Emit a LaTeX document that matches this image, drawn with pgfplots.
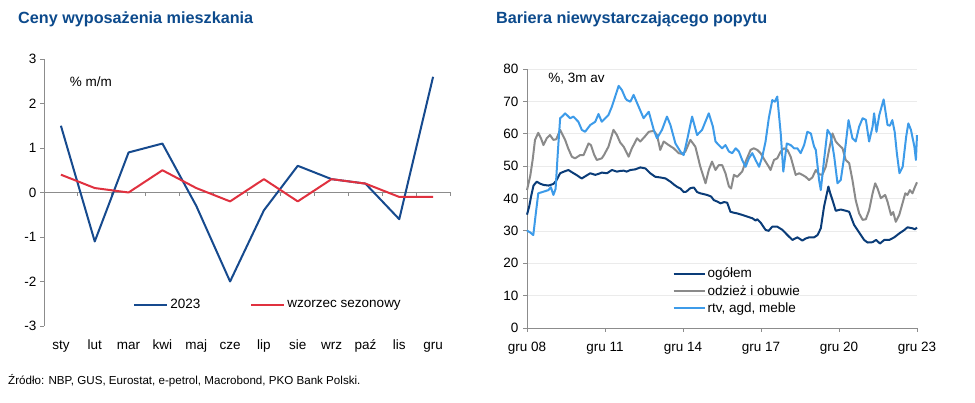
\documentclass[border=0pt]{standalone}
\usepackage{pgfplots}
\pgfplotsset{compat=1.18}
\usepackage{fontspec}
\setmainfont{Liberation Sans}
\definecolor{titleblue}{HTML}{0C4A8C}
\definecolor{blueA}{HTML}{164A8E}
\definecolor{redA}{HTML}{E0313F}
\definecolor{navy}{HTML}{0A3C78}
\definecolor{greyB}{HTML}{8A8A8A}
\definecolor{lightB}{HTML}{3D9BE9}
\definecolor{axisgray}{HTML}{8C8C8C}
\definecolor{gridgray}{HTML}{EBEBEB}
\begin{document}
\begin{tikzpicture}[x=1pt,y=1pt]
\path[use as bounding box] (0,0) rectangle (975,403);
\node[anchor=west,inner sep=0,text=titleblue,font=\bfseries\fontsize{16.2}{19}\selectfont] at (18,384) {Ceny wyposażenia mieszkania};
\node[anchor=west,inner sep=0,text=titleblue,font=\bfseries\fontsize{16.2}{19}\selectfont] at (496,384) {Bariera niewystarczającego popytu};
\node[anchor=west,inner sep=0,font=\fontsize{11.6}{13}\selectfont] at (8,22) {Źródło: NBP, GUS, Eurostat, e-petrol, Macrobond, PKO Bank Polski.};

\begin{axis}[
 at={(44pt,77pt)}, anchor=south west, scale only axis, width=406pt, height=267pt,
 xmin=-0.5, xmax=11.5, ymin=-3, ymax=3,
 axis x line*=bottom, axis y line*=left,
 x axis line style={draw=none}, y axis line style={draw=axisgray, line width=0.8pt},
 xtick={0,...,11}, xticklabels={sty,lut,mar,kwi,maj,cze,lip,sie,wrz,paź,lis,gru},
 major x tick style={draw=none},
 ytick={-3,...,3}, yticklabels={-3,-2,-1,0,1,2,3},
 y tick style={draw=axisgray, line width=0.8pt}, tick align=outside, major tick length=4pt,
 ticklabel style={font=\fontsize{13.5}{16}\selectfont},
 xticklabel style={yshift=-6pt, text height=10pt, text depth=3pt},
 legend columns=2,
 legend style={at={(0.552,0.079)}, anchor=center, draw=none, fill=none, font=\fontsize{13.5}{16}\selectfont,
   /tikz/every even column/.append style={column sep=48pt}},
 legend image code/.code={\draw[#1] (0pt,0pt) -- (33pt,0pt);},
 clip=false,
]
\draw[axisgray, line width=0.8pt] (axis cs:-0.5,0) -- (axis cs:11.5,0);
\pgfplotsinvokeforeach{-0.5,0.5,1.5,2.5,3.5,4.5,5.5,6.5,7.5,8.5,9.5,10.5,11.5}{\draw[axisgray, line width=0.8pt] (axis cs:#1,0) -- ++(0pt,-4pt);}
\addplot[blueA, line width=2pt, line join=round] coordinates {(0,1.5)(1,-1.1)(2,0.9)(3,1.1)(4,-0.3)(5,-2.0)(6,-0.4)(7,0.6)(8,0.3)(9,0.2)(10,-0.6)(11,2.6)};
\addlegendentry{2023}
\addplot[redA, line width=2pt, line join=round] coordinates {(0,0.4)(1,0.1)(2,0.0)(3,0.5)(4,0.1)(5,-0.2)(6,0.3)(7,-0.2)(8,0.3)(9,0.2)(10,-0.1)(11,-0.1)};
\addlegendentry{wzorzec sezonowy}
\node[anchor=west, font=\fontsize{13.5}{16}\selectfont] at (rel axis cs:0.055,0.914) {\% m/m};
\end{axis}

\begin{axis}[
 at={(527pt,75pt)}, anchor=south west, scale only axis, width=390pt, height=259pt,
 xmin=0, xmax=180, ymin=0, ymax=80,
 axis x line*=bottom, axis y line*=left,
 axis line style={draw=axisgray, line width=0.8pt},
 xtick={0,36,72,108,144,180}, xticklabels={gru 08,gru 11,gru 14,gru 17,gru 20,gru 23},
 ytick={0,10,...,80}, yticklabels={0,10,20,30,40,50,60,70,80},
 tick align=outside, major tick length=4pt, tick style={draw=axisgray, line width=0.8pt},
 ymajorgrids, grid style={gridgray, line width=0.6pt},
 ticklabel style={font=\fontsize{13.5}{16}\selectfont},
 yticklabel style={xshift=-1pt},
 xticklabel style={yshift=-6pt, text height=10pt, text depth=3pt},
 legend style={at={(0.365,0.143)}, anchor=west, draw=none, fill=none, font=\fontsize{13.5}{16}\selectfont,
   row sep=2pt},
 legend cell align=left,
 legend image code/.code={\draw[#1] (0pt,0pt) -- (31pt,0pt);},
 clip=false,
]
\addplot[navy, line width=2pt, line join=round] coordinates {
(0,35.0)(1,37.5)(2,41)(3,44)(4.5,45.2)(6,44.6)(7.6,44.2)(10,44.0)(12.2,44.5)(13.5,45.5)(15.3,47.8)(17,48.3)(19.1,48.8)(21,48.0)(23,47.2)(24.5,46.5)(25.3,46.2)(27,46.9)(29.2,47.8)(31.5,47.3)(33,47.6)(34.5,48.0)(36.9,47.8)(39.2,48.8)(41.5,48.3)(43,48.5)(44.6,48.6)(46,48.3)(47.7,48.8)(50,49.0)(52.3,49.6)(54.6,49.3)(56.9,47.8)(59.2,46.7)(61.5,46.5)(63.9,46.2)(66.2,45.2)(68,44.2)(69.3,43.6)(70.8,43.1)(72.3,42.0)(73.5,42.1)(75.4,43.2)(77,43.4)(78.5,42.0)(80,41.6)(83.1,41.1)(85,40.6)(86.2,39.5)(88,39.0)(89.3,38.5)(91,38.9)(92.4,38.7)(93.9,35.9)(95.5,35.6)(97,35.4)(99,35.0)(101.7,34.4)(104,33.9)(105.5,33.2)(106.3,33.6)(108,32.4)(110.1,30.3)(111.5,30.0)(113.2,31.3)(115.5,31.3)(117.9,30.3)(120.2,28.7)(122.5,27.2)(124.8,28.0)(127.1,27.0)(128.5,27.6)(130.2,28.0)(132.5,28.0)(134.1,28.7)(135.6,30.8)(137.1,37.5)(139.1,43.7)(140,41.5)(141,39.5)(142.5,36.2)(144.8,36.6)(147.2,36.2)(148.7,35.9)(150,33.5)(151,31.8)(153.3,29.5)(155.6,27.2)(157.2,26.4)(159.5,26.5)(161.1,27.2)(162.9,26.1)(164.9,27.2)(167.2,27.2)(169.5,28.0)(171.8,29.2)(174.2,30.3)(175.6,31.1)(177.9,30.8)(179,30.5)(180,31.0)};
\addlegendentry{ogółem}
\addplot[greyB, line width=2pt, line join=round] coordinates {
(0,42.6)(1.5,47)(2.6,51.9)(3.7,58.1)(5.2,60.3)(6.5,58.5)(7.6,56.5)(9.1,58.6)(10.6,59.6)(12.2,58.1)(13.5,58.3)(15.3,61.2)(17.6,58.1)(19,55.5)(20.7,52.9)(22.2,52.4)(24.5,53.4)(26.1,53.4)(28.4,57.0)(29.5,56.5)(31,53.5)(32.2,51.9)(34.5,52.4)(35.5,53.4)(37.6,56.0)(39.9,61.2)(41.5,59.6)(43,57.3)(44.6,56.0)(46.9,52.9)(48.4,55.5)(49.2,56.5)(50.8,58.6)(52.3,57.6)(54.6,59.3)(56.2,60.6)(58.5,60.9)(60,59.6)(61.5,55.0)(63.1,57.6)(65.4,56.5)(67.7,55.5)(70,54.0)(71.5,53.8)(73.1,54.5)(75.4,58.1)(77.7,56.0)(80,49.8)(82.4,44.7)(83.9,48.8)(85.4,51.4)(87,48.8)(88.5,50.3)(90.1,50.3)(91.6,47.8)(93.2,43.7)(94.2,43.1)(95.5,47.3)(97,46.7)(99.3,48.3)(100.9,51.4)(103.2,55.0)(104.7,55.5)(106.3,55.0)(107.8,54.0)(110.1,51.4)(111.6,49.8)(112.4,48.8)(114,51.9)(115.5,52.4)(117.1,54.5)(118.6,55.5)(120.2,55.0)(121.7,52.9)(124,47.3)(125.6,47.8)(127.1,47.3)(128.6,46.7)(130.2,45.7)(131.7,46.5)(133.3,48.8)(134.8,47.5)(136.3,47.3)(137.9,49.8)(139.4,55.0)(141,60.1)(142.5,57.6)(144,56.5)(145.6,55.5)(147.1,51.9)(148.7,50.9)(150.2,45.7)(151.7,39.5)(153.3,35.4)(154.9,33.4)(156.4,33.6)(157.9,36.4)(159.5,41.6)(160.7,44.7)(161.8,43.1)(163.3,40.1)(165.3,41.1)(166.4,39.0)(168,34.9)(169,35.8)(170.2,32.8)(171.8,34.9)(173.3,38.5)(174.6,41.6)(175.6,41.1)(176.7,42.6)(177.9,41.6)(179,43.5)(180,45.0)};
\addlegendentry{odzież i obuwie}
\addplot[lightB, line width=2pt, line join=round] coordinates {
(0,30.1)(1.5,29.5)(2.9,28.7)(4,35)(5.2,41.6)(7.6,42.1)(9.9,42.6)(11,43.5)(12.2,41.1)(13.2,43)(14.3,55)(15.3,64.8)(16.5,65.5)(17.6,66.3)(19.9,64.8)(21.4,65.3)(23.7,63.7)(25.3,61.2)(26.8,60.6)(29.2,62.7)(31.5,63.7)(33,66.1)(34.5,63.7)(36.1,64.8)(37.6,65.8)(39.2,68.4)(40.7,71.5)(42.3,74.8)(43.8,73.5)(45.4,71.0)(46.1,70.4)(47.7,69.9)(49.2,72.0)(51.5,68.4)(53.8,64.8)(56.2,66.8)(58.5,61.2)(60,58.6)(62.3,61.2)(64.6,65.3)(66.2,62.7)(68.5,57.0)(70.8,54.5)(72.3,53.4)(73.9,58.1)(76.2,65.3)(78.5,59.6)(80.8,61.2)(83.9,66.3)(85.8,62.2)(87,57.6)(88.5,56.5)(90.1,55.5)(91.6,56.5)(93.2,54.5)(94.7,54.0)(96.3,55.5)(97.8,54.5)(99.3,51.9)(100.9,49.8)(102.4,52.4)(104,54.0)(105.5,51.9)(107.1,49.8)(108.6,52.9)(110.1,57.6)(111.6,64.8)(113.2,70.4)(114.4,69.9)(115.5,71.5)(117.1,60.1)(118.3,48.3)(119.9,57.0)(121.7,56.5)(123.3,55.5)(124.8,55.5)(126.3,54.0)(127.9,56.5)(129.4,60.6)(131,60.1)(132.5,56.0)(133.3,55.0)(134.8,45.7)(135.6,42.6)(137.1,51.9)(138.7,61.2)(140.2,59.6)(141.8,52.9)(143.3,44.7)(144.8,45.7)(146.4,52.9)(148.4,64.2)(150.2,58.6)(151.7,57.6)(153.3,62.2)(154.9,64.8)(156.4,64.3)(157.9,57.6)(159.5,62.2)(160.2,66.3)(161.3,60.6)(162.6,65.8)(164.6,70.6)(166.4,62.7)(167.5,62.5)(168.6,64.2)(169.7,60.6)(170.7,54.0)(171.9,47.8)(173.4,49.8)(175,59.1)(176,63.2)(177.2,61.2)(178.8,56.0)(179.5,51.9)(180,59.6)};
\addlegendentry{rtv, agd, meble}
\node[anchor=west, font=\fontsize{13.5}{16}\selectfont] at (rel axis cs:0.046,0.961) {\%, 3m av};
\end{axis}
\end{tikzpicture}
\end{document}
